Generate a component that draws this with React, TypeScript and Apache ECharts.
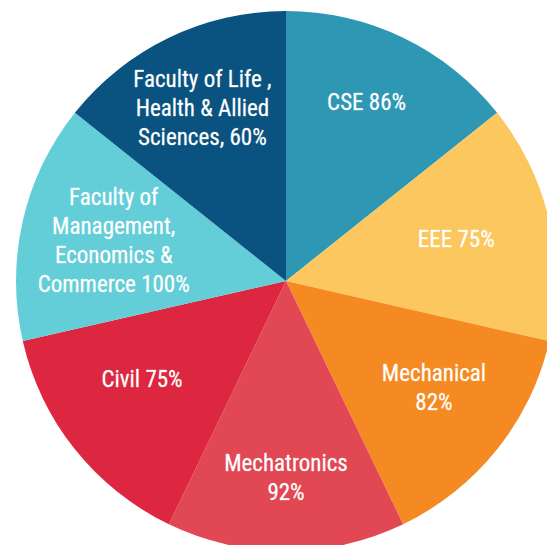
import React, { useEffect, useRef } from "react";
import * as echarts from "echarts";

const categories = [
  "CSE 86%",
  "EEE 75%",
  "Mechanical\n82%",
  "Mechatronics\n92%",
  "Civil 75%",
  "Faculty of\nManagement,\nEconomics &\nCommerce 100%",
  "Faculty of Life ,\nHealth & Allied\nSciences, 60%",
];
const sliceValues = [1, 1, 1, 1, 1, 1, 1];
const colors = ["#2E97B4", "#FCC75E", "#F58A22", "#E24754", "#DD263F", "#63CED7", "#0A5380"];
// label nudges (layout only)
const labelNudges = [[-1, -9], [-13, 0], [1, -10], [0, 9], [3, -19], [11, 2], [-2, -3]];

export default function App() {
  const ref = useRef<HTMLDivElement>(null);
  useEffect(() => {
    const chart = echarts.init(ref.current!, null, { renderer: "svg" });
    const data = categories.map((name, i) => ({
      name,
      value: sliceValues[i],
      itemStyle: { color: colors[i] },
    }));
    chart.setOption({
      animation: false,
      series: [
        {
          type: "pie",
          center: [286, 281],
          radius: [0, 270],
          startAngle: 90,
          clockwise: true,
          silent: true,
          label: { show: false },
          labelLine: { show: false },
          data,
        },
        {
          type: "pie",
          center: [286, 281],
          radius: [100, 270],
          startAngle: 90,
          clockwise: true,
          silent: true,
          itemStyle: { color: "transparent" },
          label: {
            show: true,
            position: "inside",
            color: "#ffffff",
            fontFamily: "'Liberation Sans Narrow', 'Roboto Condensed', Roboto, sans-serif",
            fontSize: 23,
            fontWeight: "normal",
            lineHeight: 29,
            align: "center",
            formatter: "{b}",
            textBorderColor: "rgba(255,255,255,0.6)",
            textBorderWidth: 0.4,
          },
          labelLine: { show: false },
          data: categories.map((name, i) => ({
            name,
            value: sliceValues[i],
            itemStyle: { color: "transparent" },
            label: { offset: labelNudges[i] },
          })),
        },
      ],
    });
    return () => chart.dispose();
  }, []);
  return (
    <div
      ref={ref}
      style={{ position: "fixed", left: 0, top: 0, width: 547, height: 545, background: "#ffffff" }}
    />
  );
}
